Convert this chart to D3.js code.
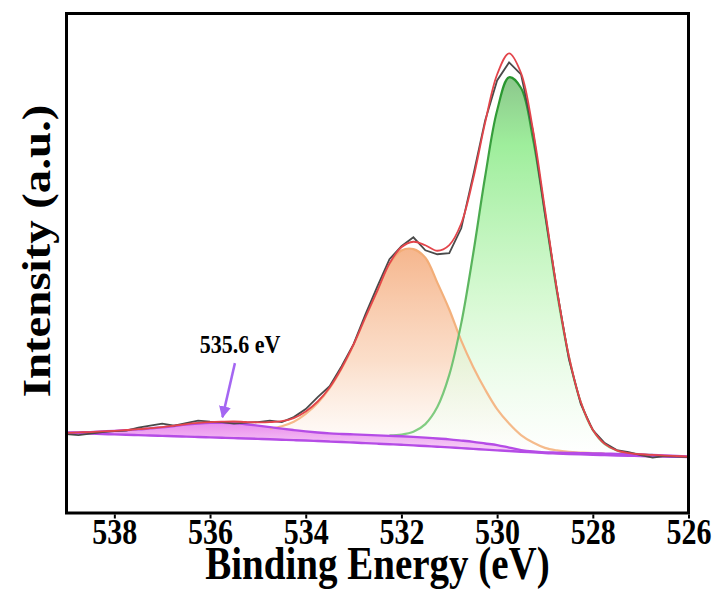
<!DOCTYPE html>
<html>
<head>
<meta charset="utf-8">
<script src="https://cdn.jsdelivr.net/npm/d3@7"></script>
<style>
  html, body { margin: 0; padding: 0; background: #fff; }
  svg { display: block; }
</style>
</head>
<body>
<div id="chart"></div>
<script>
// Binding energy grid (eV), high to low
const energies = [
  539, 538.75, 538.5, 538.25, 538, 537.75, 537.5, 537.25, 537, 536.75,
  536.5, 536.25, 536, 535.75, 535.5, 535.25, 535, 534.75, 534.5, 534.25,
  534, 533.75, 533.5, 533.25, 533, 532.75, 532.5, 532.25, 532, 531.75,
  531.5, 531.25, 531, 530.75, 530.5, 530.25, 530, 529.75, 529.5, 529.25,
  529, 528.75, 528.5, 528.25, 528, 527.75, 527.5, 527.25, 527, 526.75,
  526.5, 526.25, 526
]

// Measured spectrum (gray)
const rawCounts = [
  15.8, 15.6, 15.9, 16.2, 16.4, 16.5, 17.1, 17.5, 17.9, 17.5,
  18.0, 18.5, 18.3, 18.2, 17.9, 18.1, 18.2, 18.5, 18.2, 19.2,
  20.8, 23.2, 25.4, 29.4, 33.8, 39.8, 45.4, 50.8, 53.4, 55.2,
  52.6, 51.8, 52.0, 57.0, 67.6, 78.6, 86.6, 90.2, 87.8, 76.4,
  60.0, 44.6, 30.8, 21.8, 16.6, 14.0, 12.6, 12.2, 11.6, 11.1,
  11.4, 11.3, 11.2
]

// Fit envelope (red)
const envelopeFit = [
  16.06, 16.14, 16.21, 16.34, 16.46, 16.62, 16.78, 16.99, 17.2, 17.5,
  17.8, 18.03, 18.2, 18.28, 18.32, 18.22, 18.16, 18.2, 18.38, 19.0,
  20.34, 22.32, 25.14, 29.03, 33.74, 39.24, 44.57, 49.95, 53.2, 54.3,
  53.6, 52.5, 53.64, 57.96, 66.9, 78.16, 87.78, 92.02, 88.08, 76.7,
  60.84, 44.75, 31.42, 22.19, 16.68, 13.83, 12.54, 11.99, 11.76, 11.62,
  11.5, 11.4, 11.3
]

// Shirley background under the main components
const shirleyBg = [
  16.06, 16.05, 16.04, 16.03, 16.02, 16.01, 16.0, 15.99, 15.98, 15.97,
  15.96, 15.95, 15.94, 15.93, 15.92, 15.91, 15.9, 15.88, 15.87, 15.86,
  15.84, 15.82, 15.8, 15.75, 15.7, 15.62, 15.54, 15.45, 15.36, 15.24,
  15.1, 14.92, 14.74, 14.5, 14.24, 13.92, 13.6, 13.1, 12.6, 12.3,
  12.14, 12.09, 12.04, 11.99, 11.94, 11.88, 11.82, 11.76, 11.7, 11.6,
  11.5, 11.4, 11.3
]

// Lower straight baseline (purple)
const linearBg = [
  16.06, 15.98, 15.9, 15.82, 15.74, 15.66, 15.59, 15.52, 15.44, 15.36,
  15.29, 15.22, 15.14, 15.06, 14.99, 14.92, 14.84, 14.76, 14.67, 14.58,
  14.5, 14.4, 14.3, 14.2, 14.1, 13.99, 13.88, 13.77, 13.66, 13.53,
  13.4, 13.27, 13.14, 12.99, 12.84, 12.69, 12.54, 12.4, 12.27, 12.14,
  12.0, 11.91, 11.82, 11.73, 11.64, 11.58, 11.52, 11.46, 11.4, 11.35,
  11.3, 11.25, 11.2
]

// Component at 535.6 eV (purple)
const peak535 = [
  16.06, 16.13, 16.2, 16.32, 16.44, 16.59, 16.74, 16.94, 17.14, 17.42,
  17.7, 17.9, 18.04, 18.06, 18.0, 17.76, 17.5, 17.2, 16.88, 16.6,
  16.34, 16.12, 15.94, 15.83, 15.74, 15.64, 15.55, 15.45, 15.36, 15.24,
  15.1, 14.92, 14.74, 14.5, 14.24, 13.92, 13.6, 13.1, 12.6, 12.3,
  12.14, 12.09, 12.04, 11.99, 11.94, 11.88, 11.82, 11.76, 11.7, 11.6,
  11.5, 11.4, 11.3
]

// Component near 531.9 eV (orange)
const peak532 = [
  null, null, null, null, null, null, null, null, null, null,
  null, null, null, null, null, null, null, 16.88, 17.37, 18.26,
  19.84, 22.02, 25.0, 28.95, 33.7, 39.22, 44.54, 49.85, 52.56, 52.84,
  51.1, 46.12, 40.74, 34.5, 29.24, 24.72, 20.8, 17.9, 15.6, 14.1,
  13.04, 12.53, 12.24, 12.09, 11.98, 11.91, null, null, null, null,
  null, null, null
]

// Component near 529.7 eV (green)
const peak530 = [
  null, null, null, null, null, null, null, null, null, null,
  null, null, null, null, null, null, null, null, null, null,
  null, null, null, null, null, null, null, 15.55, 15.7, 16.26,
  17.8, 21.2, 27.64, 37.96, 51.9, 67.36, 80.58, 87.22, 85.08, 74.9,
  59.94, 44.31, 31.22, 22.09, 16.64, 13.8, 12.52, 11.98, 11.76, 11.62,
  null, null, null
]

const xTicks = [538, 536, 534, 532, 530, 528, 526]
const peakLabel = '535.6 eV'

const CHART_CONFIG = {
  width: 717,
  height: 592,
  plot: { left: 66.5, right: 688.5, top: 13.5, bottom: 513 },
  xDomain: [539, 526],
  yDomain: [0, 100],
  font: '"Liberation Serif", "Times New Roman", serif',
  colors: {
    raw: '#4a4a4a',
    envelope: '#e3454b',
    purple: '#b54ce6',
    orange: '#f2a468',
    green: '#2f9f31',
    arrow: '#a466f2'
  }
}

const createXpsChart = (containerId) => {
  const cfg = CHART_CONFIG
  const { plot } = cfg
  const rows = energies.map((e, i) => ({
    e,
    raw: rawCounts[i],
    env: envelopeFit[i],
    shirley: shirleyBg[i],
    lin: linearBg[i],
    p535: peak535[i],
    p532: peak532[i],
    p530: peak530[i]
  }))

  const x = d3.scaleLinear().domain(cfg.xDomain).range([plot.left, plot.right])
  const y = d3.scaleLinear().domain(cfg.yDomain).range([plot.bottom, plot.top])

  const svg = d3
    .select(`#${containerId}`)
    .append('svg')
    .attr('width', cfg.width)
    .attr('height', cfg.height)

  const defs = svg.append('defs')

  const addGradient = (id, stops) => {
    const g = defs
      .append('linearGradient')
      .attr('id', id)
      .attr('x1', 0).attr('y1', 0)
      .attr('x2', 0).attr('y2', 1)
    stops.forEach(([offset, color, opacity]) => {
      g.append('stop')
        .attr('offset', offset)
        .attr('stop-color', color)
        .attr('stop-opacity', opacity)
    })
  }

  addGradient('greenFill', [
    ['0%', '#86c486', 0.95],
    ['18%', '#94ec91', 0.9],
    ['60%', '#cff8ca', 0.8],
    ['100%', '#ffffff', 0.6]
  ])
  addGradient('orangeFill', [
    ['0%', '#f5b287', 0.95],
    ['55%', '#fad6bd', 0.8],
    ['100%', '#ffffff', 0.6]
  ])
  addGradient('pinkFill', [
    ['0%', '#e986ec', 0.95],
    ['100%', '#f8ddf8', 0.9]
  ])

  // stroke gradients, lighter towards the base
  const strokeGradient = (id, top, bottom) => {
    defs
      .append('linearGradient')
      .attr('id', id)
      .attr('gradientUnits', 'userSpaceOnUse')
      .attr('x1', 0).attr('y1', y(90))
      .attr('x2', 0).attr('y2', y(15))
      .call((g) => {
        g.append('stop').attr('offset', '0%').attr('stop-color', top)
        g.append('stop').attr('offset', '100%').attr('stop-color', bottom)
      })
  }
  strokeGradient('greenStroke', '#23932a', '#86cf86')
  strokeGradient('orangeStroke', '#ef9c5e', '#f5bb8c')

  const plotArea = svg.append('g')

  const area = (key, base) =>
    d3.area()
      .defined((d) => d[key] != null)
      .x((d) => x(d.e))
      .y0((d) => y(d[base]))
      .y1((d) => y(d[key]))
      .curve(d3.curveCatmullRom)

  const line = (key, curve = d3.curveCatmullRom) =>
    d3.line()
      .defined((d) => d[key] != null)
      .x((d) => x(d.e))
      .y((d) => y(d[key]))
      .curve(curve)

  // Fills
  plotArea.append('path').datum(rows).attr('d', area('p532', 'shirley')).attr('fill', 'url(#orangeFill)')
  plotArea.append('path').datum(rows).attr('d', area('p530', 'shirley')).attr('fill', 'url(#greenFill)')
  plotArea.append('path').datum(rows).attr('d', area('p535', 'lin')).attr('fill', 'url(#pinkFill)')

  // Component lines
  plotArea.append('path').datum(rows)
    .attr('d', line('p532'))
    .attr('fill', 'none')
    .attr('stroke', 'url(#orangeStroke)')
    .attr('stroke-width', 2.2)
  plotArea.append('path').datum(rows)
    .attr('d', line('p530'))
    .attr('fill', 'none')
    .attr('stroke', 'url(#greenStroke)')
    .attr('stroke-width', 2.2)

  // Purple background lines
  ;['lin', 'p535'].forEach((key) => {
    plotArea.append('path').datum(rows)
      .attr('d', line(key))
      .attr('fill', 'none')
      .attr('stroke', cfg.colors.purple)
      .attr('stroke-width', 2.4)
  })

  // Raw data and envelope
  plotArea.append('path').datum(rows)
    .attr('d', line('raw', d3.curveLinear))
    .attr('fill', 'none')
    .attr('stroke', cfg.colors.raw)
    .attr('stroke-width', 1.8)
  plotArea.append('path').datum(rows)
    .attr('d', line('env'))
    .attr('fill', 'none')
    .attr('stroke', cfg.colors.envelope)
    .attr('stroke-width', 1.8)

  // Frame
  svg.append('rect')
    .attr('x', plot.left)
    .attr('y', plot.top)
    .attr('width', plot.right - plot.left)
    .attr('height', plot.bottom - plot.top)
    .attr('fill', 'none')
    .attr('stroke', '#000')
    .attr('stroke-width', 3)

  // Bottom axis
  svg.append('g')
    .attr('transform', `translate(0,${plot.bottom + 1.5})`)
    .call(d3.axisBottom(x).tickValues(xTicks).tickSize(4).tickFormat(d3.format('d')))
    .call((g) => {
      g.select('.domain').remove()
      g.selectAll('.tick line').attr('stroke', '#000').attr('stroke-width', 2)
      g.selectAll('.tick text')
        .attr('y', 0)
        .attr('dy', 0)
        .attr('transform', 'translate(0,29.5) scale(1,1.2)')
        .style('font-family', cfg.font)
        .style('font-weight', 'bold')
        .style('font-size', '30px')
        .style('fill', '#000')
    })

  // Axis titles
  svg.append('text')
    .attr('transform', `translate(${(plot.left + plot.right) / 2},579) scale(1,1.19)`)
    .attr('text-anchor', 'middle')
    .style('font-family', cfg.font)
    .style('font-weight', 'bold')
    .style('font-size', '39px')
    .text('Binding Energy (eV)')

  svg.append('text')
    .attr('transform', 'translate(50,251) scale(1,1.2) rotate(-90)')
    .attr('text-anchor', 'middle')
    .style('font-family', cfg.font)
    .style('font-weight', 'bold')
    .style('font-size', '39px')
    .text('Intensity (a.u.)')

  // Peak annotation
  defs.append('marker')
    .attr('id', 'arrowHead')
    .attr('viewBox', '0 0 10 10')
    .attr('refX', 9)
    .attr('refY', 5)
    .attr('markerWidth', 4.8)
    .attr('markerHeight', 4.8)
    .attr('markerUnits', 'strokeWidth')
    .attr('orient', 'auto')
    .append('path')
    .attr('d', 'M0,0 L10,5 L0,10 Z')
    .attr('fill', cfg.colors.arrow)

  svg.append('line')
    .attr('x1', x(535.48))
    .attr('y1', y(30))
    .attr('x2', x(535.74))
    .attr('y2', y(19.2))
    .attr('stroke', cfg.colors.arrow)
    .attr('stroke-width', 2.5)
    .attr('marker-end', 'url(#arrowHead)')

  svg.append('text')
    .attr('transform', `translate(${x(535.37)},${y(32)}) scale(1,1.12)`)
    .attr('text-anchor', 'middle')
    .style('font-family', cfg.font)
    .style('font-weight', 'bold')
    .style('font-size', '22px')
    .text(peakLabel)
}

createXpsChart('chart')
</script>
</body>
</html>
